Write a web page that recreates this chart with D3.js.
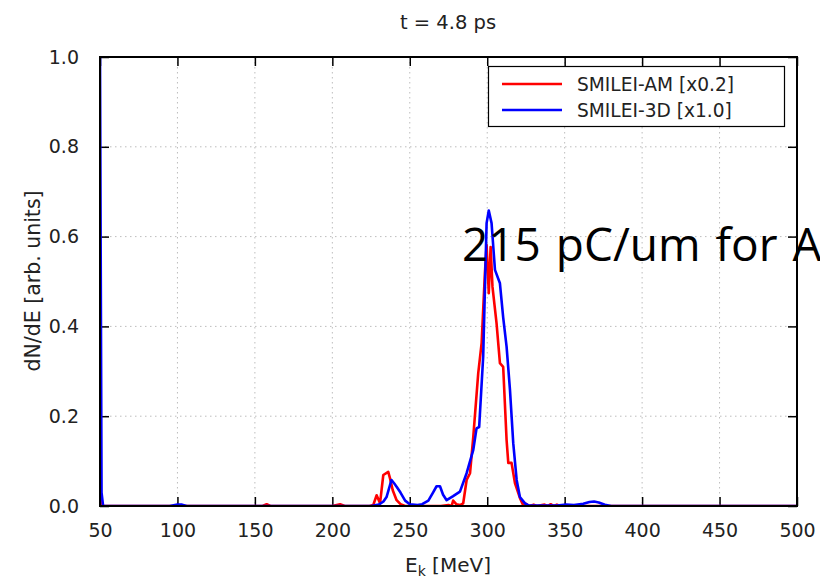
<!DOCTYPE html>
<html>
<head>
<meta charset="utf-8">
<script src="https://cdn.jsdelivr.net/npm/d3@7"></script>
<style>
  html, body { margin: 0; padding: 0; background: #fff; }
  svg { display: block; }
</style>
</head>
<body>
<svg id="chart" width="820" height="579"></svg>
<script>
// ---------- data ----------
const title = "t = 4.8 ps";
const seriesNames = ["SMILEI-AM [x0.2]", "SMILEI-3D [x1.0]"];
const seriesColors = ["#ff0000", "#0000ff"];

const xTicks = [50, 100, 150, 200, 250, 300, 350, 400, 450, 500];
const yTicks = [0.0, 0.2, 0.4, 0.6, 0.8, 1.0];
const yTickLabels = ["0.0", "0.2", "0.4", "0.6", "0.8", "1.0"];

// SMILEI-AM (x0.2)
const amEnergy = [50, 51, 52, 100, 155, 157.6, 160, 200, 205, 208, 224, 226.4, 228.6, 230.8, 232.9, 236.1, 237.2, 239, 241.5, 244, 247,
  270, 275, 277, 278, 280, 282.4, 284.5, 286.7, 288.9, 291, 294.2, 296.4, 298.5, 299.6, 301, 302.2, 303.4, 306, 308.2, 310.3, 312.5,
  313.6, 315.7, 317.9, 321.1, 323.2, 325, 327, 330, 332, 337, 339, 341, 343, 345, 347, 500];
const amValue = [0.04, 0.005, 0, 0, 0, 0.004, 0, 0, 0.004, 0, 0, 0.002, 0.024, 0.006, 0.069, 0.076, 0.062, 0.035, 0.013, 0.004, 0,
  0, 0.002, 0, 0.012, 0.004, 0.002, 0.006, 0.058, 0.073, 0.154, 0.296, 0.363, 0.519, 0.581, 0.474, 0.577, 0.488, 0.408, 0.318, 0.31, 0.147,
  0.096, 0.096, 0.051, 0.018, 0.002, 0.005, 0, 0.003, 0, 0.003, 0, 0.004, 0, 0.003, 0, 0];

// SMILEI-3D (x1.0)
const tdEnergy = [50, 51, 52, 95, 100, 103, 106, 225, 230, 233, 235, 238.2, 240, 241.5, 244, 247, 250, 255, 258, 262, 265, 267.3, 269.5,
  271.5, 273.8, 278, 282.4, 286.7, 291, 293.1, 294.8, 297.4, 299.6, 301, 302.8, 305, 308.2, 310.3, 312.5, 314.7, 316.8, 319, 321.1,
  324.4, 327, 345, 351, 356, 362, 366, 369, 372, 376, 380, 500];
const tdValue = [1.0, 0.03, 0, 0, 0.003, 0.003, 0, 0, 0.003, 0.01, 0.02, 0.058, 0.05, 0.043, 0.03, 0.012, 0.004, 0.002, 0.004, 0.012, 0.03, 0.044, 0.044,
  0.025, 0.013, 0.022, 0.032, 0.073, 0.125, 0.173, 0.176, 0.333, 0.63, 0.658, 0.63, 0.526, 0.496, 0.42, 0.355, 0.258, 0.14, 0.058, 0.02,
  0.006, 0.001, 0.001, 0.003, 0.002, 0.005, 0.009, 0.01, 0.008, 0.003, 0, 0];

const annotation = "215 pC/um for AM";

// ---------- layout ----------
const W = 820, H = 579;
const m = { left: 100, right: 23, top: 57, bottom: 73 };
const pw = W - m.left - m.right, ph = H - m.top - m.bottom;
const FONT = "DejaVu Sans, sans-serif";

const svg = d3.select("#chart");
const x = d3.scaleLinear().domain([50, 500]).range([m.left, m.left + pw]);
const y = d3.scaleLinear().domain([0, 1]).range([m.top + ph, m.top]);

// grid
const grid = svg.append("g").attr("stroke", "#bdbdbd").attr("stroke-width", 1).attr("stroke-dasharray", "1.5,3.5");
grid.selectAll("line.gx").data(xTicks.slice(1, -1)).join("line")
  .attr("x1", d => x(d)).attr("x2", d => x(d)).attr("y1", m.top).attr("y2", m.top + ph);
grid.selectAll("line.gy").data(yTicks.slice(1, -1)).join("line")
  .attr("x1", m.left).attr("x2", m.left + pw).attr("y1", d => y(d)).attr("y2", d => y(d));

// axes (inward ticks)
const axB = d3.axisBottom(x).tickValues(xTicks).tickSize(-9).tickPadding(18).tickFormat(d3.format("d"));
const axT = d3.axisTop(x).tickValues(xTicks).tickSize(-9).tickFormat("");
const axL = d3.axisLeft(y).tickValues(yTicks).tickSize(-9).tickPadding(21).tickFormat((d, i) => yTickLabels[i]);
const axR = d3.axisRight(y).tickValues(yTicks).tickSize(-9).tickFormat("");

function styleAxis(g) {
  g.select(".domain").remove();
  g.selectAll(".tick line").attr("stroke", "#000").attr("stroke-width", 1.5);
  g.selectAll("text").attr("fill", "#222").style("font-family", FONT).style("font-size", "19px");
}
svg.append("g").attr("transform", `translate(0,${m.top + ph})`).call(axB).call(styleAxis);
svg.append("g").attr("transform", `translate(0,${m.top})`).call(axT).call(styleAxis);
svg.append("g").attr("transform", `translate(${m.left},0)`).call(axL).call(styleAxis);
svg.append("g").attr("transform", `translate(${m.left + pw},0)`).call(axR).call(styleAxis);

// curves
svg.append("clipPath").attr("id", "clip").append("rect")
  .attr("x", m.left).attr("y", m.top).attr("width", pw).attr("height", ph);

const line = d3.line().x(d => x(d[0])).y(d => y(d[1]));
const series = [
  d3.zip(amEnergy, amValue),
  d3.zip(tdEnergy, tdValue)
];
svg.append("g").attr("clip-path", "url(#clip)")
  .selectAll("path").data(series).join("path")
  .attr("d", line)
  .attr("fill", "none")
  .attr("stroke", (d, i) => seriesColors[i])
  .attr("stroke-width", 2.6)
  .attr("stroke-linejoin", "round");

// frame
svg.append("rect").attr("x", m.left).attr("y", m.top).attr("width", pw).attr("height", ph)
  .attr("fill", "none").attr("stroke", "#000").attr("stroke-width", 2);

// legend
const lg = svg.append("g");
lg.append("rect").attr("x", 488.5).attr("y", 66.5).attr("width", 296).attr("height", 60)
  .attr("fill", "#fff").attr("stroke", "#000").attr("stroke-width", 1.2);
seriesNames.forEach((name, i) => {
  const yy = 84 + i * 26;
  lg.append("line").attr("x1", 502).attr("x2", 562).attr("y1", yy).attr("y2", yy)
    .attr("stroke", seriesColors[i]).attr("stroke-width", 2.6);
  lg.append("text").attr("x", 577).attr("y", yy + 6.5).text(name)
    .attr("fill", "#222").style("font-family", FONT).style("font-size", "18.6px");
});

// title
svg.append("text").attr("x", 448).attr("y", 29).attr("text-anchor", "middle").text(title)
  .attr("fill", "#222").style("font-family", FONT).style("font-size", "19.5px");

// x label with subscript
const xl = svg.append("text").attr("x", 448).attr("y", 572).attr("text-anchor", "middle")
  .attr("fill", "#222").style("font-family", FONT).style("font-size", "20px");
xl.append("tspan").text("E");
xl.append("tspan").text("k").attr("dy", 4).style("font-size", "14px");
xl.append("tspan").text(" [MeV]").attr("dy", -4);

// y label
svg.append("text").attr("transform", "translate(40,281) rotate(-90)").attr("text-anchor", "middle")
  .text("dN/dE [arb. units]").attr("fill", "#222").style("font-family", FONT).style("font-size", "20.5px");

// annotation
svg.append("text").attr("x", 462).attr("y", 261).text(annotation)
  .attr("fill", "#000").style("font-family", "Open Sans, Noto Sans, sans-serif").style("font-size", "46px")
  .attr("word-spacing", "3px");
</script>
</body>
</html>
